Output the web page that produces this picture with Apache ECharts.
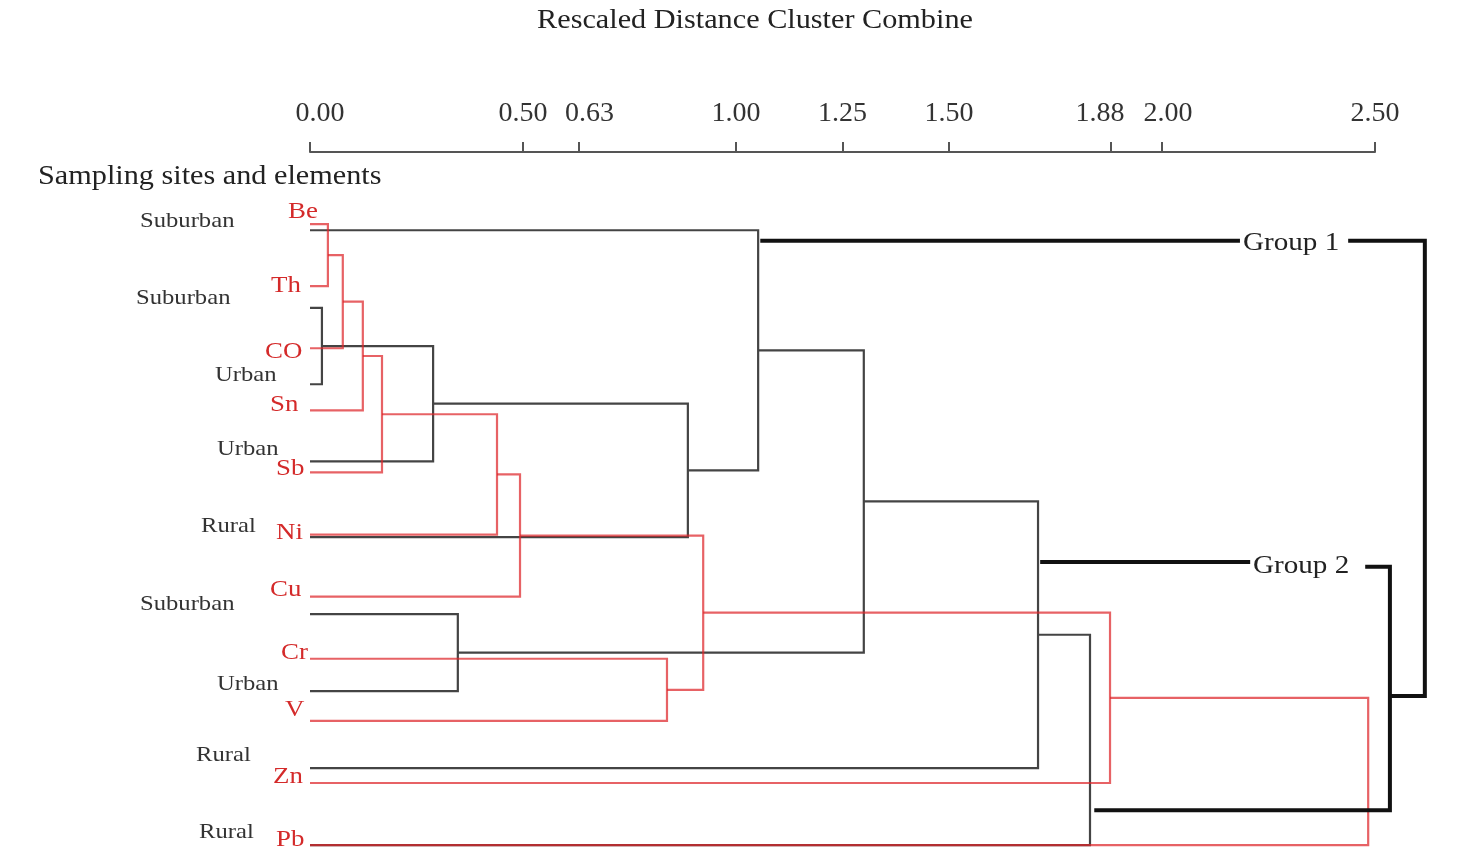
<!DOCTYPE html>
<html>
<head>
<meta charset="utf-8">
<script src="https://cdn.jsdelivr.net/npm/echarts@6/dist/echarts.min.js"></script>
<style>html,body{margin:0;padding:0;background:#fff;}#c{width:1461px;height:864px;}</style>
</head>
<body>
<div id="c"></div>
<script>
// ---------- DATA ----------
const tickValues = [0, 0.5, 0.63, 1.0, 1.25, 1.5, 1.88, 2.0, 2.5];

// Elements dendrogram (red): leaves top to bottom, row positions
const elements = ['Be', 'Th', 'CO', 'Sn', 'Sb', 'Ni', 'Cu', 'Cr', 'V', 'Zn', 'Pb'];
const elementRows = [0, 1, 2, 3, 4, 5, 6, 7, 8, 9, 10];
// merges: [childA, childB, distance]; ids >= n are earlier merges
const elementMerges = [
  [0, 1, 0.042], [11, 2, 0.077], [12, 3, 0.124], [13, 4, 0.169],
  [14, 5, 0.439], [15, 6, 0.493], [7, 8, 0.838], [16, 17, 0.923],
  [18, 9, 1.878], [19, 10, 2.484]
];

// Sampling-sites dendrogram (black)
const sites = ['Suburban', 'Suburban', 'Urban', 'Urban', 'Rural', 'Suburban', 'Urban', 'Rural', 'Rural'];
const siteRows = [0.1, 1.35, 2.58, 3.82, 5.04, 6.28, 7.52, 8.76, 10.0];
const siteMerges = [
  [1, 2, 0.028], [9, 3, 0.289], [10, 4, 0.887], [0, 11, 1.052],
  [5, 6, 0.347], [12, 13, 1.30], [14, 7, 1.709], [15, 8, 1.831]
];

const groupNames = ['Group 1', 'Group 2'];

// ---------- BUILD ----------
function buildTree(rows, merges) {
  const nodes = rows.map(r => ({ x: 0, y: r }));
  const segs = [];
  merges.forEach(([a, b, d]) => {
    const A = nodes[a], B = nodes[b];
    segs.push([A.x, A.y, d, B.y, B.x]);
    nodes.push({ x: d, y: (A.y + B.y) / 2 });
  });
  return { segs, nodes };
}
const red = buildTree(elementRows, elementMerges);
const blk = buildTree(siteRows, siteMerges);

// group annotation paths (layout, in axis units), anchored on merge nodes
const n1 = blk.nodes[12], n2 = blk.nodes[15], n3 = blk.nodes[16];
const gOuter = 2.617, gInner = 2.535;
const groupPaths = [
  [[n1.x + 0.005, 0.27], [2.183, 0.27]],
  [[2.437, 0.27], [gOuter, 0.27], [gOuter, 7.6], [gInner, 7.6]],
  [[n2.x + 0.005, 5.44], [2.207, 5.44]],
  [[2.477, 5.52], [gInner, 5.52], [gInner, 9.44], [n3.x + 0.01, 9.44]]
];

function bracketRender(color, width) {
  return function (params, api) {
    const p = [
      api.coord([api.value(0), api.value(1)]),
      api.coord([api.value(2), api.value(1)]),
      api.coord([api.value(2), api.value(3)]),
      api.coord([api.value(4), api.value(3)])
    ];
    return { type: 'polyline', shape: { points: p }, style: { stroke: color, lineWidth: width, fill: null } };
  };
}

const SERIF = '"Liberation Serif", "DejaVu Serif", serif';
const SX = 1.12;
function txt(text, x, y, size, fill, align) {
  return {
    type: 'text', x: x, y: y, scaleX: SX, z: 100,
    style: {
      text: text, fontSize: size, fontFamily: SERIF, fill: fill,
      textAlign: align || 'left', align: align || 'left',
      textVerticalAlign: 'middle', verticalAlign: 'middle'
    }
  };
}

// label layout (pixels)
const siteLabelPos = [[140, 221], [136, 298], [215, 375], [217, 449], [201, 526], [140, 604], [217, 684], [196, 755], [199, 832]];
const elemLabelPos = [[288, 212], [271, 286], [265, 352], [270, 405], [276, 469], [276, 533], [270, 590], [281, 653], [285, 710], [273, 777], [276, 840]];
const groupLabelPos = [[1243, 243], [1253, 566]];

const graphics = [];
graphics.push(txt('Rescaled Distance Cluster Combine', 755, 21, 27, '#222', 'center'));
graphics.push(txt('Sampling sites and elements', 38, 177, 27, '#222'));
sites.forEach((s, i) => graphics.push(txt(s, siteLabelPos[i][0], siteLabelPos[i][1], 22, '#333')));
elements.forEach((s, i) => graphics.push(txt(s, elemLabelPos[i][0], elemLabelPos[i][1], 24, '#d42a2a')));
groupNames.forEach((s, i) => graphics.push(txt(s, groupLabelPos[i][0], groupLabelPos[i][1], 26, '#222')));

// small horizontal nudges of tick labels, as in the reference layout
function tickStyle(v) {
  if (v === 0) return 'z';
  if (v === 0.63) return 'r';
  if (v === 1.88) return 'l';
  if (v === 2) return 'r2';
  return 'n';
}

const chart = echarts.init(document.getElementById('c'));
chart.setOption({
  animation: false,
  backgroundColor: '#fff',
  grid: { left: 310, right: 86, top: 152, bottom: 6.5 },
  xAxis: {
    type: 'value', position: 'top', min: 0, max: 2.5,
    axisLine: { show: true, onZero: false, lineStyle: { color: '#555', width: 2 } },
    axisTick: { show: true, customValues: tickValues, length: 10, lineStyle: { color: '#555', width: 2 } },
    axisLabel: {
      show: true, customValues: tickValues, margin: 24,
      formatter: v => '{' + tickStyle(v) + '|' + Number(v).toFixed(2) + '}',
      fontSize: 28, fontFamily: SERIF, color: '#333',
      rich: {
        n: { fontSize: 28, fontFamily: SERIF, color: '#333' },
        z: { fontSize: 28, fontFamily: SERIF, color: '#333', padding: [0, 0, 0, 20] },
        r: { fontSize: 28, fontFamily: SERIF, color: '#333', padding: [0, 0, 0, 22] },
        r2: { fontSize: 28, fontFamily: SERIF, color: '#333', padding: [0, 0, 0, 12] },
        l: { fontSize: 28, fontFamily: SERIF, color: '#333', padding: [0, 22, 0, 0] }
      }
    },
    splitLine: { show: false }
  },
  yAxis: {
    type: 'value', inverse: true, min: -1.16, max: 10.2, show: false,
    splitLine: { show: false }
  },
  graphic: graphics,
  series: [
    {
      type: 'custom', name: 'sites', clip: false, z: 2,
      renderItem: bracketRender('#444', 2.2),
      data: blk.segs
    },
    {
      type: 'custom', name: 'elements', clip: false, z: 3,
      renderItem: bracketRender('rgba(222,38,42,0.72)', 2.2),
      data: red.segs
    },
    {
      type: 'custom', name: 'groups', clip: false, z: 4,
      renderItem: function (params, api) {
        const path = groupPaths[params.dataIndex];
        return {
          type: 'polyline',
          shape: { points: path.map(p => api.coord(p)) },
          style: { stroke: '#111', lineWidth: 4, fill: null }
        };
      },
      data: groupPaths.map((p, i) => [i])
    }
  ]
});
</script>
</body>
</html>
